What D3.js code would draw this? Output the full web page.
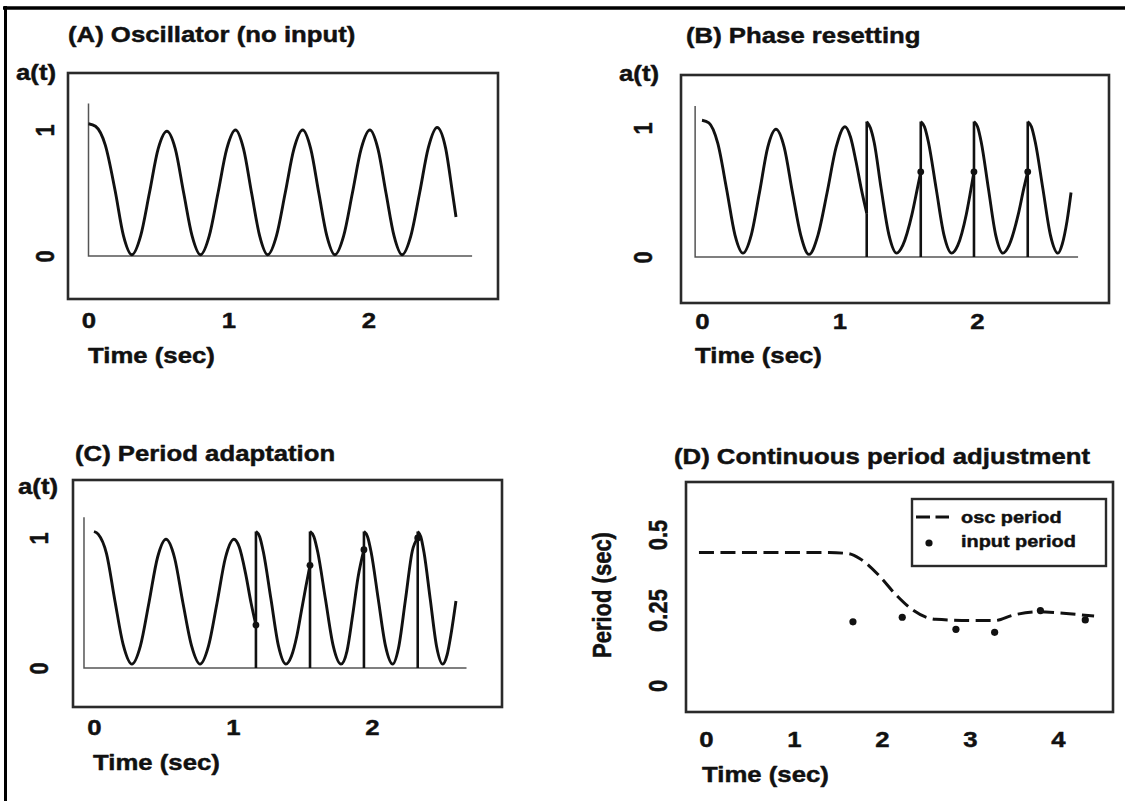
<!DOCTYPE html>
<html>
<head>
<meta charset="utf-8">
<script src="https://cdn.jsdelivr.net/npm/d3@7"></script>
<style>
  body { margin: 0; background: #fff; }
  svg { display: block; }
  text { font-family: "Liberation Sans", Arial, Helvetica, sans-serif; fill: #111;
         stroke: #111; stroke-width: 0.45px; stroke-linejoin: round; }
</style>
</head>
<body>
<svg id="fig" width="1125" height="801"></svg>
<script>
// ---- Panel A: free-running oscillator, a(t) over time (s) ----
const timeA = [0, 0.05, 0.12, 0.19, 0.25, 0.31,
               0.3725, 0.435, 0.4975, 0.56, 0.62, 0.68, 0.74, 0.80,
               0.8625, 0.925, 0.9875, 1.05, 1.1075, 1.165, 1.2225, 1.28,
               1.3425, 1.405, 1.4675, 1.53, 1.5875, 1.645, 1.7025, 1.76,
               1.8225, 1.885, 1.9475, 2.01, 2.0675, 2.125, 2.1825, 2.24,
               2.3025, 2.365, 2.4275, 2.49, 2.55, 2.60, 2.625];
const actA = [1.05, 1.03, 0.88, 0.52, 0.16, 0.01,
              0.16, 0.5, 0.85, 0.99, 0.85, 0.5, 0.16, 0.01,
              0.16, 0.5, 0.85, 1.0, 0.85, 0.5, 0.16, 0.01,
              0.16, 0.5, 0.85, 1.0, 0.85, 0.5, 0.16, 0.01,
              0.16, 0.5, 0.85, 1.0, 0.85, 0.5, 0.16, 0.01,
              0.16, 0.5, 0.86, 1.02, 0.86, 0.5, 0.31];

// ---- Panel B: phase resetting (a repeated time marks a reset jump) ----
const timeB = [0, 0.05, 0.115, 0.18, 0.24, 0.298,
               0.358, 0.418, 0.478, 0.538, 0.598, 0.658, 0.718, 0.778,
               0.8435, 0.91, 0.975, 1.04, 1.08, 1.12, 1.16, 1.198,
               1.198, 1.225, 1.252, 1.303, 1.36, 1.416, 1.46, 1.527, 1.566, 1.591,
               1.591, 1.618, 1.647, 1.703, 1.76, 1.816, 1.86, 1.922, 1.955, 1.978,
               1.978, 2.004, 2.031, 2.083, 2.136, 2.189, 2.233, 2.30, 2.34, 2.369,
               2.369, 2.396, 2.424, 2.479, 2.534, 2.589, 2.62, 2.655, 2.684];
const actB = [1.06, 1.04, 0.88, 0.52, 0.17, 0.03,
              0.17, 0.5, 0.85, 0.99, 0.85, 0.5, 0.17, 0.02,
              0.17, 0.5, 0.85, 1.01, 0.93, 0.74, 0.52, 0.34,
              1.05, 1.0, 0.89, 0.53, 0.17, 0.03, 0.09, 0.33, 0.53, 0.66,
              1.05, 1.01, 0.89, 0.53, 0.17, 0.03, 0.09, 0.33, 0.52, 0.66,
              1.05, 1.01, 0.89, 0.53, 0.17, 0.03, 0.09, 0.33, 0.53, 0.66,
              1.05, 1.01, 0.89, 0.53, 0.17, 0.03, 0.1, 0.28, 0.5];
const inputTimeB = [1.198, 1.591, 1.978, 2.369];
const inputActB = [0.34, 0.66, 0.66, 0.66];
const dotTimeB = [1.591, 1.978, 2.369];
const dotActB = [0.66, 0.66, 0.66];

// ---- Panel C: period adaptation ----
const timeC = [0, 0.03, 0.09, 0.15, 0.21, 0.273,
               0.334, 0.395, 0.457, 0.518, 0.579, 0.64, 0.702, 0.763,
               0.824, 0.885, 0.946, 1.007, 1.045, 1.09, 1.13, 1.165,
               1.165, 1.192, 1.219, 1.273, 1.327, 1.381, 1.42, 1.46, 1.494, 1.525, 1.554,
               1.554, 1.582, 1.61, 1.665, 1.721, 1.777, 1.82, 1.86, 1.90, 1.942,
               1.942, 1.968, 1.994, 2.045, 2.097, 2.149, 2.19, 2.24, 2.29, 2.329,
               2.329, 2.351, 2.374, 2.419, 2.464, 2.509, 2.54, 2.57, 2.604];
const actC = [1.05, 1.03, 0.88, 0.52, 0.18, 0.03,
              0.17, 0.5, 0.85, 0.99, 0.85, 0.5, 0.17, 0.03,
              0.17, 0.5, 0.85, 0.99, 0.93, 0.73, 0.5, 0.33,
              1.05, 1.01, 0.89, 0.53, 0.17, 0.03, 0.09, 0.25, 0.45, 0.63, 0.79,
              1.05, 1.01, 0.89, 0.53, 0.17, 0.03, 0.13, 0.4, 0.7, 0.91,
              1.05, 1.01, 0.89, 0.53, 0.17, 0.03, 0.15, 0.52, 0.9, 1.0,
              1.05, 1.01, 0.89, 0.53, 0.17, 0.03, 0.1, 0.27, 0.515];
const inputTimeC = [1.165, 1.554, 1.942, 2.329];
const inputActC = [0.33, 0.79, 0.91, 1.0];

// ---- Panel D: oscillator period vs. input period (s) ----
const oscTime = [-0.08, 0.5, 1.0, 1.4, 1.61, 1.75, 1.96, 2.16, 2.35, 2.61, 3.04, 3.28, 3.49, 3.78, 4.06, 4.41];
const oscPeriod = [0.44, 0.44, 0.44, 0.44, 0.437, 0.42, 0.366, 0.30, 0.25, 0.219, 0.215, 0.215, 0.233, 0.244, 0.239, 0.23];
const inputTime = [1.67, 2.23, 2.84, 3.28, 3.80, 4.31];
const inputPeriod = [0.211, 0.226, 0.186, 0.176, 0.248, 0.217];

// ---- tick labels ----
const timeTicks = [0, 1, 2];
const actTicks = [0, 1];
const timeTicksD = [0, 1, 2, 3, 4];
const periodTicks = [0, 0.25, 0.5];

const titles = ["(A) Oscillator (no input)", "(B) Phase resetting",
                "(C) Period adaptation", "(D) Continuous period adjustment"];
const legendLabels = ["osc period", "input period"];

// ---------------------------------------------------------------
const svg = d3.select("#fig");
const SX = 1.17;          // horizontal widening of the lettering
const INK = "#111";

function label(s, x, y, opt = {}) {
  const size = opt.size || 22;
  return svg.append("text")
    .attr("transform", `translate(${x},${y}) scale(${SX},1)` + (opt.rotate ? " rotate(-90)" : ""))
    .attr("text-anchor", opt.anchor || "start")
    .style("font-size", size + "px")
    .style("font-weight", opt.weight || "bold")
    .text(s);
}

function styleTicks(sel, rotate) {
  sel.attr("font-size", null).attr("font-family", null);
  sel.select(".domain").remove();
  sel.selectAll(".tick line").remove();
  sel.selectAll("text")
    .attr("x", 0).attr("y", 0).attr("dy", 0)
    .attr("fill", null)
    .attr("text-anchor", "middle")
    .attr("transform", `scale(${SX},1)` + (rotate ? " rotate(-90)" : ""))
    .style("font-size", "22px").style("font-weight", "bold");
}

function xAxisAt(x, ticks, baseY) {
  const g = svg.append("g").attr("transform", `translate(0,${baseY})`)
    .call(d3.axisBottom(x).tickValues(ticks).tickSize(0).tickFormat(d3.format("~g")));
  styleTicks(g, false);
}
function yAxisAt(y, ticks, baseX) {
  const g = svg.append("g").attr("transform", `translate(${baseX},0)`)
    .call(d3.axisLeft(y).tickValues(ticks).tickSize(0).tickFormat(d3.format("~g")));
  styleTicks(g, true);
}

function frame(x0, y0, x1, y1) {
  svg.append("rect").attr("x", x0).attr("y", y0).attr("width", x1 - x0).attr("height", y1 - y0)
    .attr("fill", "none").attr("stroke", "#2a2a2a").attr("stroke-width", 2.6);
}

// Splits a trace at repeated time stamps and draws smooth pieces plus vertical jumps.
function drawTrace(x, y, times, vals) {
  const pts = times.map((t, i) => ({ t, v: vals[i] }));
  const pieces = [[pts[0]]];
  const jumps = [];
  for (let i = 1; i < pts.length; i++) {
    if (pts[i].t === pts[i - 1].t) {
      jumps.push([pts[i - 1], pts[i]]);
      pieces.push([pts[i]]);
    } else {
      pieces[pieces.length - 1].push(pts[i]);
    }
  }
  const line = d3.line().x(d => x(d.t)).y(d => y(d.v)).curve(d3.curveMonotoneX);
  pieces.forEach(p => svg.append("path").attr("d", line(p)).attr("fill", "none")
    .attr("stroke", INK).attr("stroke-width", 2.9).attr("stroke-linejoin", "round"));
  jumps.forEach(([a, b]) => svg.append("line")
    .attr("x1", x(a.t)).attr("x2", x(b.t)).attr("y1", y(a.v)).attr("y2", y(b.v))
    .attr("stroke", INK).attr("stroke-width", 2.6));
}

function innerAxes(x, y, tLeft, tRight, vTop) {
  svg.append("path")
    .attr("d", `M${x(tLeft)},${y(vTop)}V${y(0)}H${x(tRight)}`)
    .attr("fill", "none").attr("stroke", "#555").attr("stroke-width", 1.5);
}

function stems(x, y, times, vals) {
  times.forEach((t, i) => svg.append("line")
    .attr("x1", x(t)).attr("x2", x(t)).attr("y1", y(0)).attr("y2", y(vals[i]))
    .attr("stroke", INK).attr("stroke-width", 2.6));
}
function dots(x, y, times, vals, r) {
  svg.append("g").selectAll("circle").data(times).join("circle")
    .attr("cx", d => x(d)).attr("cy", (d, i) => y(vals[i])).attr("r", r).attr("fill", INK);
}

// outer rule lines
svg.append("line").attr("x1", 3).attr("x2", 1125).attr("y1", 8).attr("y2", 8)
  .attr("stroke", "#000").attr("stroke-width", 3.5);
svg.append("line").attr("x1", 5.5).attr("x2", 5.5).attr("y1", 6).attr("y2", 801)
  .attr("stroke", "#000").attr("stroke-width", 3);

// ---------- A ----------
{
  const x = d3.scaleLinear().domain([0, 2]).range([88.5, 368.5]);
  const y = d3.scaleLinear().domain([0, 1]).range([256, 130]);
  frame(68, 73, 498, 299);
  innerAxes(x, y, 0, 2.74, 1.21);
  drawTrace(x, y, timeA, actA);
  xAxisAt(x, timeTicks, 328);
  yAxisAt(y, actTicks, 54);
  label(titles[0], 68, 42);
  label("a(t)", 16, 80);
  label("Time (sec)", 88, 363);
}

// ---------- B ----------
{
  const x = d3.scaleLinear().domain([0, 2]).range([702, 977]);
  const y = d3.scaleLinear().domain([0, 1]).range([257, 128]);
  frame(681, 75, 1109, 303);
  innerAxes(x, y, -0.05, 2.735, 1.17);
  stems(x, y, inputTimeB, inputActB);
  drawTrace(x, y, timeB, actB);
  dots(x, y, dotTimeB, dotActB, 3.4);
  xAxisAt(x, timeTicks, 329);
  yAxisAt(y, actTicks, 652);
  label(titles[1], 686, 43);
  label("a(t)", 619, 81);
  label("Time (sec)", 695, 363);
}

// ---------- C ----------
{
  const x = d3.scaleLinear().domain([0, 2]).range([94, 372]);
  const y = d3.scaleLinear().domain([0, 1]).range([668, 538]);
  frame(73, 480, 502, 707);
  innerAxes(x, y, -0.072, 2.68, 1.16);
  stems(x, y, inputTimeC, inputActC);
  drawTrace(x, y, timeC, actC);
  dots(x, y, inputTimeC, inputActC, 3.4);
  xAxisAt(x, timeTicks, 735);
  yAxisAt(y, actTicks, 48);
  label(titles[2], 75, 461);
  label("a(t)", 18, 494);
  label("Time (sec)", 93, 770);
}

// ---------- D ----------
{
  const x = d3.scaleLinear().domain([0, 4]).range([706, 1058]);
  const y = d3.scaleLinear().domain([0, 0.5]).range([685.5, 534.5]);
  frame(686, 482, 1113, 712);
  const line = d3.line().x((d, i) => x(oscTime[i])).y(d => y(d)).curve(d3.curveMonotoneX);
  svg.append("path").attr("d", line(oscPeriod)).attr("fill", "none")
    .attr("stroke", INK).attr("stroke-width", 3).attr("stroke-dasharray", "15,6.5");
  dots(x, y, inputTime, inputPeriod, 3.6);
  xAxisAt(x, timeTicksD, 747);
  yAxisAt(y, periodTicks, 667);
  label(titles[3], 674, 464);
  label("Time (sec)", 702, 782);
  label("Period (sec)", 611, 595, { rotate: true, anchor: "middle" });

  // legend
  svg.append("rect").attr("x", 912).attr("y", 499).attr("width", 194).attr("height", 67)
    .attr("fill", "#fff").attr("stroke", "#2a2a2a").attr("stroke-width", 2.4);
  svg.append("line").attr("x1", 916).attr("x2", 949).attr("y1", 517).attr("y2", 517)
    .attr("stroke", INK).attr("stroke-width", 3).attr("stroke-dasharray", "14,5.5");
  svg.append("circle").attr("cx", 929).attr("cy", 543).attr("r", 3.6).attr("fill", INK);
  label(legendLabels[0], 961, 523, { size: 17 });
  label(legendLabels[1], 961, 547, { size: 17 });
}
</script>
</body>
</html>
